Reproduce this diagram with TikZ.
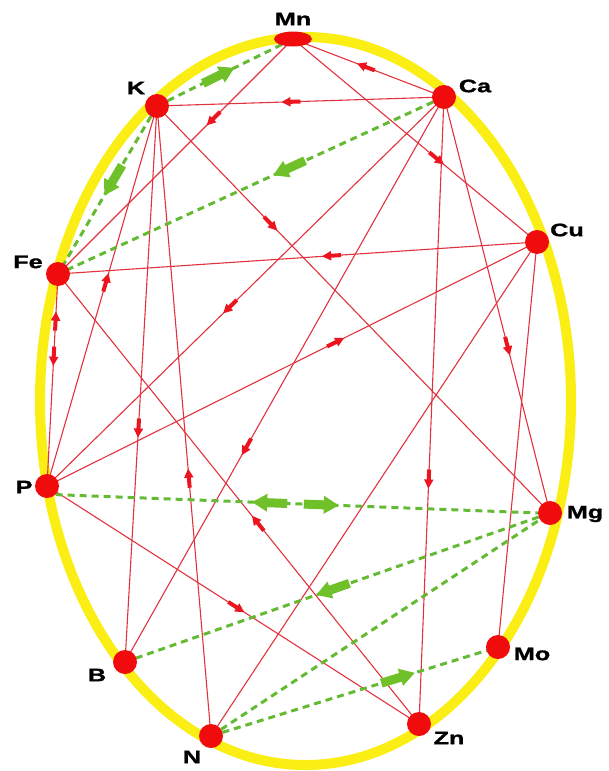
\documentclass[tikz,border=0pt]{standalone}
\usepackage{fontspec}
\newfontfamily\labfont[FakeStretch=1.4,FakeBold=1.5]{Liberation Sans}
\usetikzlibrary{decorations.markings,shapes.geometric}
\pgfdeclarelayer{bg}
\pgfdeclarelayer{edges}
\pgfsetlayers{bg,edges,main}
\definecolor{ringyellow}{RGB}{250,238,20}
\definecolor{nodered}{RGB}{240,12,12}
\definecolor{edgered}{RGB}{226,50,62}
\definecolor{arrred}{RGB}{236,20,30}
\definecolor{dashgreen}{RGB}{100,186,50}
\definecolor{arrgreen}{RGB}{112,192,42}
\tikzset{
  elem/.style={circle, fill=nodered, inner sep=0pt, minimum size=24pt},
  lab/.style={font=\labfont\bfseries\fontsize{18}{18}\selectfont, inner sep=0pt},
  rline/.style={draw=edgered, line width=1.1pt},
  gline/.style={draw=dashgreen, line width=3pt, dash pattern=on 7pt off 5pt},
  ra/.style={postaction={decorate, decoration={markings, mark=at position #1 with {
     \fill[arrred] (-10pt,-2pt) -- (0pt,-2pt) -- (0pt,-4.8pt) -- (9pt,0pt) -- (0pt,4.8pt) -- (0pt,2pt) -- (-10pt,2pt) -- cycle;}}}},
  ga/.style={postaction={decorate, decoration={markings, mark=at position #1 with {
     \fill[arrgreen] (-17pt,-4.5pt) -- (3pt,-4.5pt) -- (3pt,-9pt) -- (18pt,0pt) -- (3pt,9pt) -- (3pt,4.5pt) -- (-17pt,4.5pt) -- cycle;}}}}
}
\begin{document}
\begin{tikzpicture}[x=1pt,y=-1pt]
\useasboundingbox (0,0) rectangle (608,771);
\begin{pgfonlayer}{bg}
\draw[ringyellow, line width=10pt] (305.5,401) ellipse [x radius=265.5pt, y radius=364pt];
\end{pgfonlayer}
% element nodes
\node[ellipse, fill=nodered, inner sep=0pt, minimum width=38pt, minimum height=15pt] (Mn) at (293,39) {};
\node[elem] (K) at (157,106) {};
\node[elem] (Ca) at (444,97) {};
\node[elem] (Cu) at (537,242) {};
\node[elem] (Fe) at (58,274) {};
\node[elem] (P) at (47,486) {};
\node[elem] (Mg) at (550,513) {};
\node[elem] (Mo) at (498,647) {};
\node[elem] (B) at (125,662) {};
\node[elem] (N) at (211,736) {};
\node[elem] (Zn) at (419,724) {};
% labels
\node[lab] (MnL) at (293,19) {Mn};
\node[lab] (KL) at (136,88) {K};
\node[lab] (CaL) at (475,86) {Ca};
\node[lab] (CuL) at (567,230) {Cu};
\node[lab] (FeL) at (28,262) {Fe};
\node[lab] (PL) at (24,487) {P};
\node[lab] (MgL) at (585,514) {Mg};
\node[lab] (MoL) at (532,654) {Mo};
\node[lab] (BL) at (97,675) {B};
\node[lab] (NL) at (192,757) {N};
\node[lab] (ZnL) at (449,738) {Zn};
\begin{pgfonlayer}{edges}
% red connectors
\draw[rline, ra=0.52] (Ca.center) -- (Mn.center);
\draw[rline, ra=0.535] (Ca.center) -- (K.center);
\draw[rline, ra=0.34] (Mn.center) -- (Fe.center);
\draw[rline, ra=0.59] (Mn.center) -- (Cu.center);
\draw[rline, ra=0.29] (K.center) -- (Mg.center);
\draw[rline, ra=0.43] (Cu.center) -- (Fe.center);
\draw[rline, ra=0.537] (P.center) -- (K.center);
\draw[rline, ra=0.54] (Ca.center) -- (P.center);
\draw[rline, ra=0.78] (P.center) -- (Fe.center);
\path[ra=0.39] (Fe.center) -- (P.center);
\draw[rline, ra=0.59] (P.center) -- (Cu.center);
\draw[rline, ra=0.58] (K.center) -- (B.center);
\draw[rline, ra=0.62] (Ca.center) -- (B.center);
\draw[rline, ra=0.6] (Ca.center) -- (Mg.center);
\draw[rline, ra=0.61] (Ca.center) -- (Zn.center);
\draw[rline, ra=0.41] (N.center) -- (K.center);
\draw[rline, ra=0.447] (Zn.center) -- (Fe.center);
\draw[rline, ra=0.51] (P.center) -- (Zn.center);
\draw[rline] (Cu.center) -- (N.center);
\draw[rline] (Cu.center) -- (Mo.center);
% green connectors
\draw[gline, ga=0.45] (K.center) -- (Mn.center);
\draw[gline, ga=0.44] (K.center) -- (Fe.center);
\draw[gline, ga=0.40] (Ca.center) -- (Fe.center);
\draw[gline, ga=0.55] (P.-45) -- (Mg.west);
\path[ga=0.555] (Mg.west) -- (P.-45);
\draw[gline, ga=0.51] (Mg.center) -- (B.center);
\draw[gline] (N.center) -- (Mg.center);
\draw[gline, ga=0.65] (N.center) -- (Mo.center);
\end{pgfonlayer}
\end{tikzpicture}
\end{document}
